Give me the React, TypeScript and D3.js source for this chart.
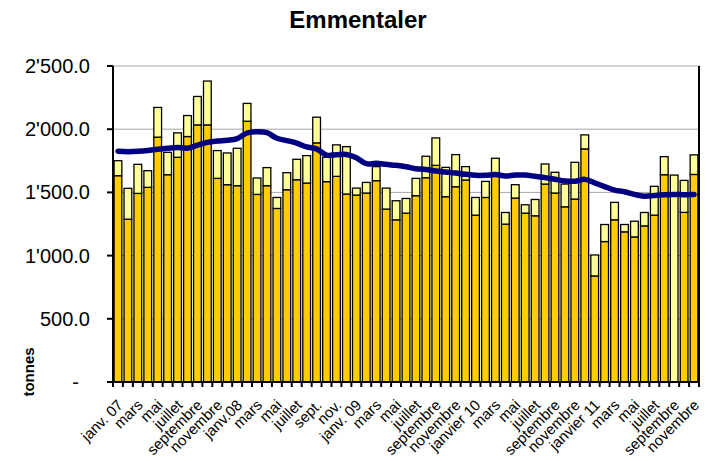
import React, { useEffect, useRef } from 'react';
import * as d3 from 'd3';

const months = [
  'janv. 07', 'févr.', 'mars', 'avr.', 'mai', 'juin', 'juillet', 'août', 'septembre', 'octobre', 'novembre', 'décembre',
  'janv.08', 'févr.', 'mars', 'avr.', 'mai', 'juin', 'juillet', 'août', 'sept.', 'oct.', 'nov.', 'déc.',
  'janv. 09', 'févr.', 'mars', 'avr.', 'mai', 'juin', 'juillet', 'août', 'septembre', 'octobre', 'novembre', 'décembre',
  'janvier 10', 'février', 'mars', 'avril', 'mai', 'juin', 'juillet', 'août', 'septembre', 'octobre', 'novembre', 'décembre',
  'janvier 11', 'février', 'mars', 'avril', 'mai', 'juin', 'juillet', 'août', 'septembre', 'octobre', 'novembre',
];

// lower (orange) part of each bar
const baseValues = [
  1632, 1288, 1492, 1540, 1937, 1640, 1778, 1942, 2034, 2034, 1611, 1561,
  1553, 2063, 1484, 1553, 1373, 1521, 1600, 1574, 1892, 1585, 1627, 1487,
  1479, 1495, 1593, 1368, 1283, 1336, 1474, 1616, 1714, 1466, 1545, 1598,
  1320, 1460, 1635, 1249, 1455, 1336, 1315, 1566, 1495, 1386, 1447, 1844,
  839, 1111, 1283, 1188, 1148, 1235, 1320, 1640, 0, 1342, 1642,
];

// upper (pale) part stacked on top
const topValues = [
  119, 244, 230, 132, 235, 177, 193, 166, 225, 347, 220, 251,
  296, 141, 130, 143, 87, 135, 162, 217, 203, 193, 249, 375,
  55, 84, 111, 166, 151, 116, 137, 170, 217, 232, 254, 106,
  140, 127, 135, 92, 106, 66, 129, 159, 164, 180, 291, 111,
  166, 135, 138, 58, 124, 106, 228, 143, 1637, 253, 155,
];

// moving average line
const avgValues = [
  1826, 1822, 1825, 1832, 1842, 1850, 1856, 1850, 1874, 1896, 1906, 1912,
  1925, 1970, 1980, 1972, 1928, 1910, 1890, 1860, 1844, 1795, 1798, 1800,
  1774, 1727, 1730, 1722, 1714, 1703, 1687, 1682, 1669, 1661, 1653, 1643,
  1635, 1635, 1642, 1630, 1637, 1637, 1627, 1617, 1604, 1591, 1588, 1603,
  1575, 1546, 1518, 1505, 1484, 1470, 1476, 1481, 1484, 1482, 1484,
];

const yTicks = [0, 500, 1000, 1500, 2000, 2500];

const W = 709;
const H = 461;
const FONT = 'Arial, "Liberation Sans", Helvetica, sans-serif';

const App: React.FC = () => {
  const svgRef = useRef<SVGSVGElement>(null);

  useEffect(() => {
    if (!svgRef.current) return;
    const svg = d3.select(svgRef.current);
    svg.selectAll('*').remove();

    const left = 113, right = 699, top = 66, bottom = 382;
    const idx = months.map((_, i) => i);

    const x = d3.scaleBand<number>().domain(idx).range([left, right]).paddingInner(0.22).paddingOuter(0.11);
    const y = d3.scaleLinear().domain([0, 2500]).range([bottom, top]);

    // gridlines
    svg.append('g')
      .selectAll('line')
      .data(yTicks.filter(d => d > 0))
      .enter()
      .append('line')
      .attr('x1', left).attr('x2', right)
      .attr('y1', d => y(d)).attr('y2', d => y(d))
      .attr('stroke', '#a6a6a6')
      .attr('stroke-width', 1);

    // bars
    const bars = svg.append('g');
    bars.selectAll('.base')
      .data(idx)
      .enter()
      .append('rect')
      .attr('x', i => x(i)!)
      .attr('width', x.bandwidth())
      .attr('y', i => y(baseValues[i]))
      .attr('height', i => y(0) - y(baseValues[i]))
      .attr('fill', '#ffcc00')
      .attr('stroke', '#000')
      .attr('stroke-width', 1.3);

    bars.selectAll('.top')
      .data(idx)
      .enter()
      .append('rect')
      .attr('x', i => x(i)!)
      .attr('width', x.bandwidth())
      .attr('y', i => y(baseValues[i] + topValues[i]))
      .attr('height', i => y(baseValues[i]) - y(baseValues[i] + topValues[i]))
      .attr('fill', '#ffff99')
      .attr('stroke', '#000')
      .attr('stroke-width', 1.3);

    // moving average
    const line = d3.line<number>()
      .x(i => x(i)! + x.bandwidth() / 2)
      .y(i => y(avgValues[i]))
      .curve(d3.curveCatmullRom);

    svg.append('path')
      .datum(idx)
      .attr('fill', 'none')
      .attr('stroke', '#000080')
      .attr('stroke-width', 5.5)
      .attr('stroke-linecap', 'round')
      .attr('stroke-linejoin', 'round')
      .attr('d', line);

    // axes
    const axes = svg.append('g').attr('stroke', '#000').attr('stroke-width', 2);
    axes.append('line').attr('x1', left).attr('x2', left).attr('y1', top).attr('y2', bottom + 1);
    axes.append('line').attr('x1', right).attr('x2', right).attr('y1', top).attr('y2', bottom + 1);
    axes.append('line').attr('x1', left - 1).attr('x2', right + 1).attr('y1', bottom).attr('y2', bottom);

    axes.selectAll('.ytick')
      .data(yTicks)
      .enter()
      .append('line')
      .attr('x1', left - 6).attr('x2', left)
      .attr('y1', d => y(d)).attr('y2', d => y(d));

    const step = x.step();
    const bounds = idx.map(i => x(i)! - (step - x.bandwidth()) / 2).concat([right]);
    axes.selectAll('.xtick')
      .data(bounds)
      .enter()
      .append('line')
      .attr('x1', d => d).attr('x2', d => d)
      .attr('y1', bottom).attr('y2', bottom + 5);

    // y labels
    const fmt = (v: number) => v === 0 ? '-' : d3.format(',.1f')(v).replace(',', "'");
    svg.append('g')
      .selectAll('text')
      .data(yTicks)
      .enter()
      .append('text')
      .attr('x', d => d === 0 ? 79 : 90)
      .attr('y', d => y(d))
      .attr('dy', '0.35em')
      .attr('text-anchor', 'end')
      .attr('font-family', FONT)
      .attr('font-size', 20)
      .attr('fill', '#000')
      .text(fmt);

    // x labels (every two months)
    svg.append('g')
      .selectAll('text')
      .data(idx.filter(i => i % 2 === 0))
      .enter()
      .append('text')
      .attr('transform', i => `translate(${x(i)! + x.bandwidth() / 2 + 6},${bottom + 24}) rotate(-45)`)
      .attr('text-anchor', 'end')
      .attr('font-family', FONT)
      .attr('font-size', 15)
      .attr('fill', '#000')
      .text(i => months[i]);

    // title
    svg.append('text')
      .attr('x', 358)
      .attr('y', 28)
      .attr('text-anchor', 'middle')
      .attr('font-family', FONT)
      .attr('font-weight', 'bold')
      .attr('font-size', 24)
      .text('Emmentaler');

    svg.append('text')
      .attr('transform', 'translate(34,372) rotate(-90)')
      .attr('text-anchor', 'middle')
      .attr('font-family', FONT)
      .attr('font-weight', 'bold')
      .attr('font-size', 15)
      .text('tonnes');
  }, []);

  return (
    <div style={{ position: 'absolute', left: 0, top: 0, width: W, height: H, background: '#fff' }}>
      <svg ref={svgRef} width={W} height={H} />
    </div>
  );
};

export default App;
